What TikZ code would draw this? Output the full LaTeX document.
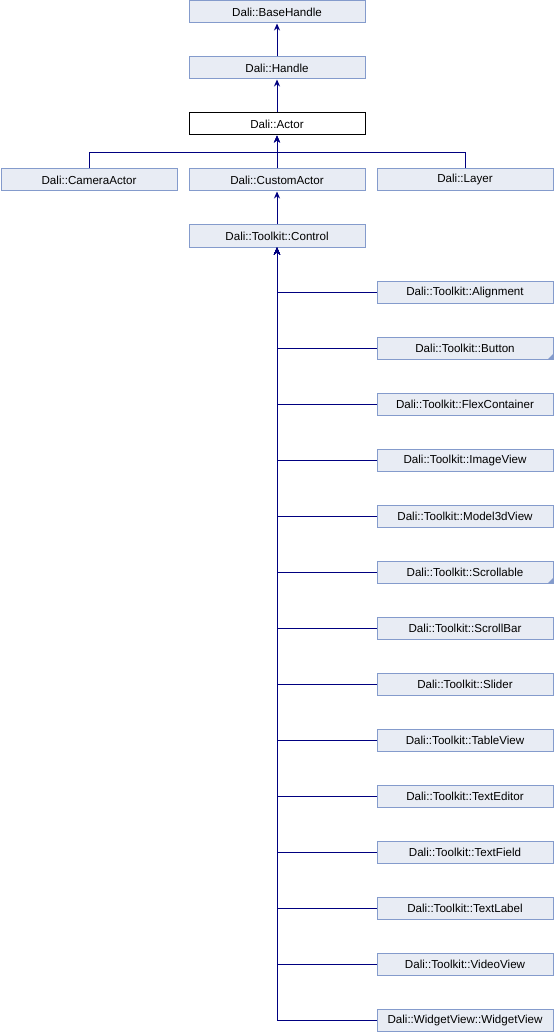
\documentclass[tikz,border=0pt]{standalone}
\usepackage{fontspec}
\setmainfont{Liberation Sans}
\usetikzlibrary{arrows.meta}
\definecolor{boxfill}{RGB}{232,236,244}
\definecolor{boxline}{RGB}{132,155,204}
\definecolor{edgecol}{RGB}{0,0,128}
\begin{document}
\begin{tikzpicture}[x=1pt,y=-1pt,
  cls/.style={draw=boxline,fill=boxfill,line width=1pt,minimum width=176pt,minimum height=22pt,inner sep=0pt,font=\fontsize{11.6}{13}\selectfont,anchor=north west},
  cur/.style={cls,draw=black,fill=white},
  edge/.style={draw=edgecol,line width=1pt,-{Stealth[length=7pt,width=6pt]}},
  more/.style={path picture={\fill[boxline] (path picture bounding box.south east) -- ++(-5pt,0) -- ++(5pt,5pt) -- cycle;}}]
\useasboundingbox (0,0) rectangle (554,1032);
\node[cls] (base) at (188.5,0.5) {Dali::BaseHandle};
\node[cls] (handle) at (188.5,56.5) {Dali::Handle};
\node[cur] (actor) at (188.5,112.5) {Dali::Actor};
\node[cls] (cam) at (0.5,168.5) {Dali::CameraActor};
\node[cls] (custom) at (188.5,168.5) {Dali::CustomActor};
\node[cls] (layer) at (376.5,168.5) {Dali::Layer};
\node[cls] (control) at (188.5,224.5) {Dali::Toolkit::Control};
\node[cls] (c0) at (376.5,280.5) {Dali::Toolkit::Alignment};
\node[cls,more] (c1) at (376.5,336.5) {Dali::Toolkit::Button};
\node[cls] (c2) at (376.5,392.5) {Dali::Toolkit::FlexContainer};
\node[cls] (c3) at (376.5,448.5) {Dali::Toolkit::ImageView};
\node[cls] (c4) at (376.5,504.5) {Dali::Toolkit::Model3dView};
\node[cls,more] (c5) at (376.5,560.5) {Dali::Toolkit::Scrollable};
\node[cls] (c6) at (376.5,616.5) {Dali::Toolkit::ScrollBar};
\node[cls] (c7) at (376.5,672.5) {Dali::Toolkit::Slider};
\node[cls] (c8) at (376.5,728.5) {Dali::Toolkit::TableView};
\node[cls] (c9) at (376.5,784.5) {Dali::Toolkit::TextEditor};
\node[cls] (c10) at (376.5,840.5) {Dali::Toolkit::TextField};
\node[cls] (c11) at (376.5,896.5) {Dali::Toolkit::TextLabel};
\node[cls] (c12) at (376.5,952.5) {Dali::Toolkit::VideoView};
\node[cls] (c13) at (376.5,1008.5) {Dali::WidgetView::WidgetView};
\draw[edge] (handle.north) -- (base.south);
\draw[edge] (actor.north) -- (handle.south);
\draw[edge] (custom.north) -- (actor.south);
\draw[edge] (cam.north) -- ++(0,-16) -| (actor.south);
\draw[edge] (layer.north) -- ++(0,-16) -| (actor.south);
\draw[edge] (control.north) -- (custom.south);
\foreach \i in {0,...,13}{\draw[edge] (c\i.west) -| (control.south);}
\end{tikzpicture}
\end{document}
